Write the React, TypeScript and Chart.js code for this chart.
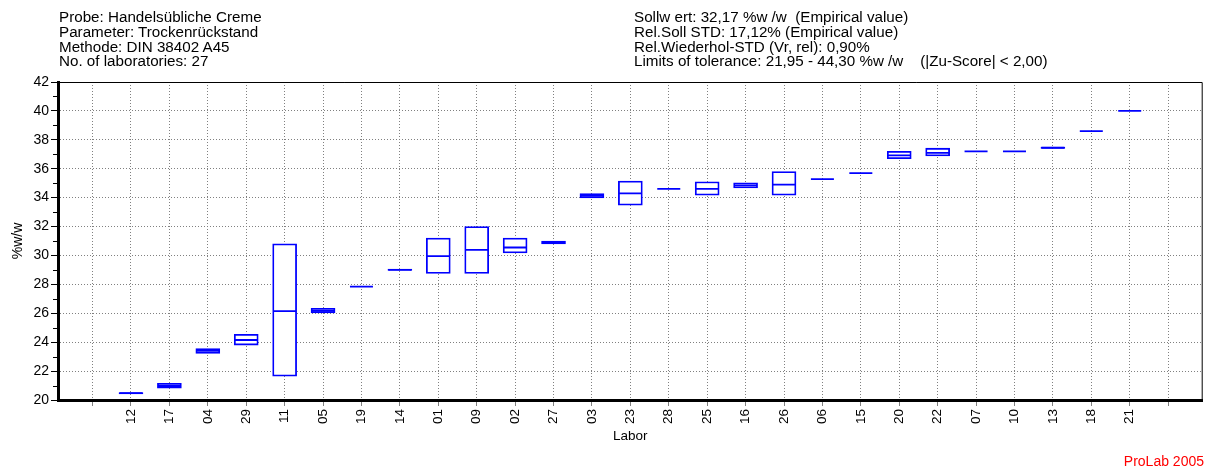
import React, { useEffect, useRef } from 'react';
import { Chart, registerables } from 'chart.js';

Chart.register(...registerables);

// ---- data ----
const labs = ['12', '17', '04', '29', '11', '05', '19', '14', '01', '09', '02', '27', '03', '23', '28', '25', '16', '26', '06', '15', '20', '22', '07', '10', '13', '18', '21'];
const lows = [20.42, 20.82, 23.22, 23.8, 21.65, 26.03, 27.85, 28.96, 28.75, 28.75, 30.17, 30.8, 33.98, 33.48, 34.6, 34.17, 34.67, 34.17, 35.28, 35.7, 36.7, 36.88, 37.2, 37.2, 37.4, 38.6, 40.0];
const highs = [20.52, 21.15, 23.55, 24.55, 30.8, 26.35, 27.85, 29.05, 31.2, 32.0, 31.2, 31.0, 34.28, 35.15, 34.6, 35.1, 35.03, 35.8, 35.28, 35.7, 37.2, 37.42, 37.2, 37.2, 37.5, 38.6, 40.0];
const medians = [20.47, 20.97, 23.4, 24.15, 26.15, 26.17, 27.85, 29.0, 29.95, 30.38, 30.55, 30.9, 34.12, 34.3, 34.6, 34.6, 34.85, 34.9, 35.28, 35.7, 36.93, 37.1, 37.2, 37.2, 37.45, 38.6, 40.0];
const yMajorTicks = [20, 22, 24, 26, 28, 30, 32, 34, 36, 38, 40, 42];
const yMinorTicks = [21, 23, 25, 27, 29, 31, 33, 35, 37, 39, 41];

const headerLeft = [
  'Probe: Handelsübliche Creme',
  'Parameter: Trockenrückstand',
  'Methode: DIN 38402 A45',
  'No. of laboratories: 27',
];
const headerRight = [
  'Sollw ert: 32,17 %w /w  (Empirical value)',
  'Rel.Soll STD: 17,12% (Empirical value)',
  'Rel.Wiederhol-STD (Vr, rel): 0,90%',
  'Limits of tolerance: 21,95 - 44,30 %w /w    (|Zu-Score| < 2,00)',
];

const FONT = "'Liberation Sans', Arial, sans-serif";
const BLUE = '#0000FF';

const framePlugin = {
  id: 'frame',
  afterDraw(chart: any) {
    const { ctx, chartArea: a, scales } = chart;
    ctx.save();
    ctx.strokeStyle = '#000';
    ctx.lineWidth = 1;
    ctx.beginPath();
    ctx.moveTo(a.left, a.top + 0.5);
    ctx.lineTo(a.right - 0.5, a.top + 0.5);
    ctx.lineTo(a.right - 0.5, a.bottom);
    ctx.stroke();
    const ys = scales.y;
    ctx.beginPath();
    yMinorTicks.forEach((v) => {
      const py = Math.round(ys.getPixelForValue(v)) + 0.5;
      ctx.moveTo(a.left - 5, py);
      ctx.lineTo(a.left, py);
    });
    ctx.stroke();
    ctx.restore();
  },
};

export default function App() {
  const ref = useRef<HTMLCanvasElement | null>(null);
  useEffect(() => {
    if (!ref.current) return;
    Chart.defaults.font.family = FONT;
    const chart = new Chart(ref.current, {
      type: 'bar',
      data: {
        datasets: [
          {
            type: 'bar',
            data: labs.map((_, i) => ({ x: i + 1, y: [lows[i], highs[i]] })) as any,
            backgroundColor: '#FFFFFF',
            borderColor: BLUE,
            borderWidth: 1.8,
            borderSkipped: false,
            barThickness: 24,
            grouped: false,
            order: 2,
          } as any,
          {
            type: 'scatter',
            data: labs.map((_, i) => ({ x: i + 1, y: medians[i] })),
            pointStyle: 'line',
            pointRadius: 11.5,
            pointHoverRadius: 11.5,
            pointBorderColor: BLUE,
            pointBackgroundColor: BLUE,
            pointBorderWidth: 1.8,
            borderColor: BLUE,
            showLine: false,
            order: 1,
          } as any,
        ],
      },
      options: {
        responsive: false,
        animation: false,
        devicePixelRatio: 1,
        layout: { padding: { top: 82, right: 4, left: 0, bottom: 0 } },
        plugins: { legend: { display: false }, tooltip: { enabled: false } },
        scales: {
          x: {
            type: 'linear',
            min: -0.9,
            max: 28.9,
            offset: false,
            afterBuildTicks: (s: any) => {
              s.ticks = Array.from({ length: labs.length + 2 }, (_, i) => ({ value: i }));
            },
            afterFit: (s: any) => {
              s.height = 68;
            },
            ticks: {
              autoSkip: false,
              minRotation: 90,
              maxRotation: 90,
              padding: 3,
              color: '#000',
              font: { size: 13.5, family: FONT },
              callback: (v: any) => labs[Number(v) - 1] ?? '',
            },
            grid: { color: '#808080', tickColor: '#808080', tickLength: 6, offset: false, lineWidth: 1 },
            border: { display: true, color: '#000', width: 3, dash: [1, 2] },
            title: {
              display: true,
              text: 'Labor',
              color: '#000',
              font: { size: 13.5, family: FONT },
              padding: { top: 0, bottom: 24 },
            },
          },
          y: {
            type: 'linear',
            min: 20,
            max: 42,
            afterBuildTicks: (s: any) => {
              s.ticks = yMajorTicks.map((v) => ({ value: v }));
            },
            afterFit: (s: any) => {
              s.width = 58;
            },
            ticks: {
              padding: 2,
              color: '#000',
              font: { size: 14, family: FONT },
              callback: (v: any) => String(v),
            },
            grid: {
              color: (c: any) => (c.tick && (c.tick.value === 20 || c.tick.value === 42) ? 'rgba(0,0,0,0)' : '#808080'),
              tickColor: '#000',
              tickLength: 7,
              lineWidth: 1,
            },
            border: { display: true, color: '#000', width: 3, dash: [1, 2] },
            title: {
              display: true,
              text: '%w/w',
              color: '#000',
              font: { size: 14, family: FONT },
              padding: { top: 10, bottom: 0 },
            },
          },
        },
      } as any,
      plugins: [framePlugin],
    });
    return () => chart.destroy();
  }, []);

  const textStyle: React.CSSProperties = {
    position: 'absolute',
    top: 10,
    fontFamily: FONT,
    fontSize: 15.2,
    lineHeight: '14.8px',
    color: '#000',
    whiteSpace: 'pre',
  };

  return (
    <div style={{ position: 'fixed', left: 0, top: 0, width: 1216, height: 468, overflow: 'hidden', background: '#fff' }}>
      <canvas ref={ref} width={1216} height={468} style={{ position: 'absolute', left: 0, top: 0 }} />
      <div style={{ ...textStyle, left: 59 }}>
        {headerLeft.map((t) => (
          <div key={t}>{t}</div>
        ))}
      </div>
      <div style={{ ...textStyle, left: 634 }}>
        {headerRight.map((t) => (
          <div key={t}>{t}</div>
        ))}
      </div>
      <div
        style={{
          position: 'absolute',
          right: 12,
          top: 454,
          fontFamily: FONT,
          fontSize: 14,
          lineHeight: '14px',
          color: '#FF0000',
          whiteSpace: 'pre',
        }}
      >
        ProLab 2005
      </div>
    </div>
  );
}
